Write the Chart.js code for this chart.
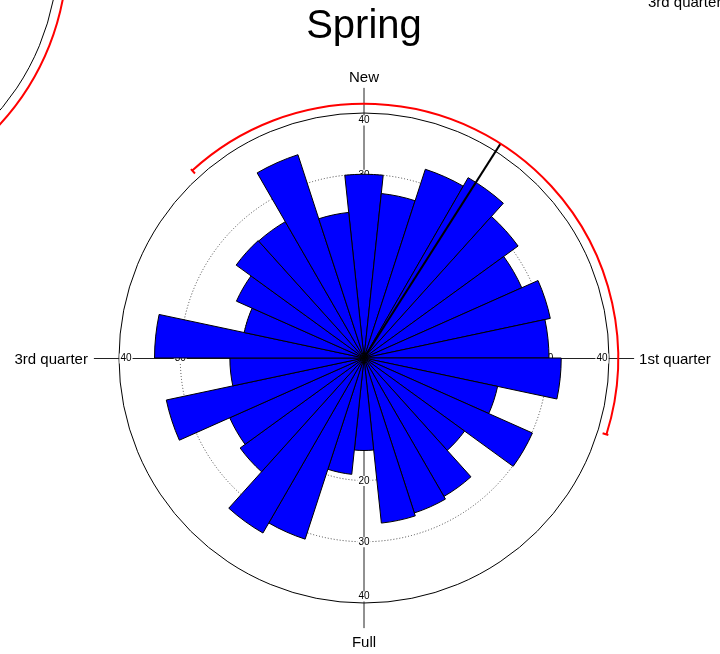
<!DOCTYPE html>
<html>
<head>
<meta charset="utf-8">
<script src="https://cdn.jsdelivr.net/npm/chart.js@4/dist/chart.umd.min.js"></script>
<style>
html,body{margin:0;padding:0;background:#fff;overflow:hidden}
#wrap{position:relative;width:720px;height:654px}
canvas{display:block}
</style>
</head>
<body>
<div id="wrap"><canvas id="c" width="720" height="654"></canvas></div>
<script>
// ---- data ----
const binCentres = [0,12,24,36,48,60,72,84,96,108,120,132,144,156,168,180,192,204,216,228,240,252,264,276,288,300,312,324,336,348];
const counts = [30.0,27.0,32.4,34.0,31.1,28.2,31.1,30.2,32.2,22.3,30.1,20.3,26.1,26.6,27.1,15.1,19.1,31.1,33.0,25.0,24.0,33.0,21.9,34.2,20.0,22.8,25.8,25.7,34.9,23.9];
const tickValues = [10,20,30,40];
const phaseLabels = ['New','1st quarter','Full','3rd quarter'];
const titleText = 'Spring';
const meanDirection = 32.5;          // degrees, clockwise from New
const confidenceArc = [-42.5, 107.5]; // degrees
const meanLength = 41.5;             // in radial-scale units
const axisExtent = 44.1;             // in radial-scale units
const neighbourLabel = '3rd quarter';

const FONT = "'Liberation Sans', Arial, Helvetica, sans-serif";
const rad = d => d * Math.PI / 180;

const decor = {
  id: 'decor',
  beforeDatasetsDraw(chart) {
    const s = chart.scales.r, ctx = chart.ctx;
    const cx = s.xCenter, cy = s.yCenter;
    const ext = s.getDistanceFromCenterForValue(axisExtent);
    ctx.save();
    ctx.strokeStyle = '#222';
    ctx.lineWidth = 1;
    ctx.beginPath();
    ctx.moveTo(cx, cy - ext); ctx.lineTo(cx, cy + ext);
    ctx.moveTo(cx - ext, cy + 0.5); ctx.lineTo(cx + ext, cy + 0.5);
    ctx.stroke();
    ctx.font = '10px ' + FONT;
    ctx.textAlign = 'center';
    ctx.textBaseline = 'middle';
    tickValues.forEach(v => {
      let d = s.getDistanceFromCenterForValue(v);
      if (v === s.max) d -= 7;
      [[0,-1],[1,0],[0,1],[-1,0]].forEach(([dx, dy]) => {
        const x = cx + dx * d, y = cy + dy * d + 0.5;
        const t = String(v);
        const w = ctx.measureText(t).width + 2;
        ctx.fillStyle = '#fff';
        ctx.fillRect(x - w / 2, y - 5, w, 10);
        ctx.fillStyle = '#000';
        ctx.fillText(t, x, y);
      });
    });
    ctx.restore();
  },
  afterDatasetsDraw(chart) {
    const s = chart.scales.r, ctx = chart.ctx;
    const cx = s.xCenter, cy = s.yCenter;
    const R = s.getDistanceFromCenterForValue(meanLength);
    ctx.save();
    // mean direction
    ctx.strokeStyle = '#000';
    ctx.lineWidth = 2;
    ctx.beginPath();
    ctx.moveTo(cx, cy);
    ctx.lineTo(cx + R * Math.sin(rad(meanDirection)), cy - R * Math.cos(rad(meanDirection)));
    ctx.stroke();
    // confidence arc
    ctx.strokeStyle = '#ff0000';
    ctx.lineWidth = 2;
    ctx.beginPath();
    ctx.arc(cx, cy, R, rad(confidenceArc[0] - 90), rad(confidenceArc[1] - 90));
    ctx.stroke();
    ctx.beginPath();
    confidenceArc.forEach(a => {
      const sx = Math.sin(rad(a)), sy = -Math.cos(rad(a));
      ctx.moveTo(cx + (R - 4) * sx, cy + (R - 4) * sy);
      ctx.lineTo(cx + (R + 2) * sx, cy + (R + 2) * sy);
    });
    ctx.stroke();
    ctx.restore();
  },
  afterDraw(chart) {
    const s = chart.scales.r, ctx = chart.ctx;
    const cx = s.xCenter, cy = s.yCenter;
    const ext = s.getDistanceFromCenterForValue(axisExtent);
    ctx.save();
    ctx.fillStyle = '#000';
    // title
    ctx.font = '40px ' + FONT;
    ctx.textAlign = 'center';
    ctx.textBaseline = 'alphabetic';
    ctx.fillText(titleText, cx, 38);
    // phase labels
    ctx.font = '15px ' + FONT;
    ctx.fillText(phaseLabels[0], cx, cy - ext - 6);
    ctx.fillText(phaseLabels[2], cx, cy + ext + 19);
    ctx.textAlign = 'left';
    ctx.fillText(phaseLabels[1], cx + ext + 5, cy + 6);
    ctx.textAlign = 'right';
    ctx.fillText(phaseLabels[3], cx - ext - 6, cy + 6);
    // fragments of neighbouring panels
    ctx.textAlign = 'left';
    ctx.fillText(neighbourLabel, 648, 7);
    ctx.strokeStyle = '#000';
    ctx.lineWidth = 1;
    ctx.beginPath();
    ctx.arc(-187, -48, s.drawingArea, 0, Math.PI / 2);
    ctx.stroke();
    ctx.strokeStyle = '#ff0000';
    ctx.lineWidth = 2;
    ctx.beginPath();
    ctx.arc(-187, -48, s.getDistanceFromCenterForValue(meanLength), 0, Math.PI / 2);
    ctx.stroke();
    ctx.restore();
  }
};

new Chart(document.getElementById('c'), {
  type: 'polarArea',
  data: {
    labels: binCentres.map(a => a + '°'),
    datasets: [{
      data: counts,
      backgroundColor: '#0000ff',
      borderColor: '#000000',
      borderWidth: 1
    }]
  },
  options: {
    responsive: false,
    animation: false,
    layout: { padding: { left: 119, top: 113, right: 111, bottom: 51 } },
    plugins: { legend: { display: false }, tooltip: { enabled: false }, title: { display: false } },
    scales: {
      r: {
        min: 0,
        max: 40,
        startAngle: -6,
        ticks: { display: false, stepSize: 10 },
        angleLines: { display: false },
        pointLabels: { display: false },
        grid: {
          circular: true,
          lineWidth: 1,
          color: c => (c.tick && c.tick.value === 40) ? '#000' : '#444'
        },
        border: {
          dash: c => (c.tick && c.tick.value === 40) ? [] : [1, 2]
        }
      }
    }
  },
  plugins: [decor]
});
</script>
</body>
</html>
